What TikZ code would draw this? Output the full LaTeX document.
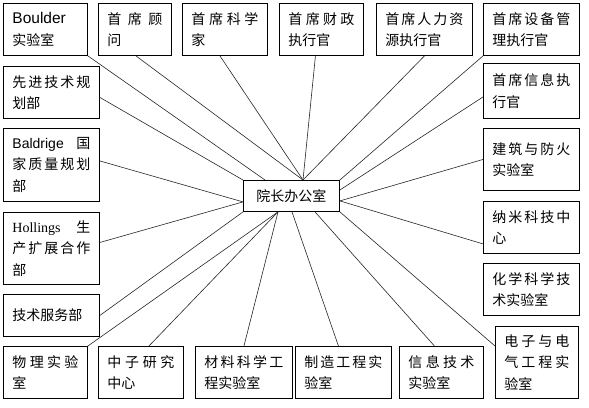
\documentclass[tikz,border=0pt]{standalone}
\usepackage{fontspec}
\setmainfont{Noto Sans CJK SC}
\newfontfamily\latinsans{Liberation Sans}
\newfontfamily\latinserif{Liberation Serif}

\begin{document}
\begin{tikzpicture}[x=1pt, y=-1pt,
  unit/.style={draw, line width=.9pt, anchor=north west, align=left, inner xsep=9pt, inner ysep=0pt, font=\fontsize{14}{21.5}\selectfont},
  link/.style={line width=.6pt, black!85}]
  \useasboundingbox[fill=white] (0,0) rectangle (589,407);
  % top row
  \node[unit, text width=66pt, minimum height=52pt] (boulder) at (3,3) {{\latinsans\fontsize{15.5}{21.5}\selectfont Boulder}\\实验室};
  \node[unit, text width=55pt, minimum height=52pt] (adv) at (98,3) {首\hfill 席\hfill 顾\\问};
  \node[unit, text width=67pt, minimum height=52pt] (sci) at (182,3) {首\hfill 席\hfill 科\hfill 学\\家};
  \node[unit, text width=66pt, minimum height=52pt] (fin) at (279,3) {首\hfill 席\hfill 财\hfill 政\\执行官};
  \node[unit, text width=78pt, minimum height=52pt] (hr) at (376,3) {首\hfill 席\hfill 人\hfill 力\hfill 资\\源执行官};
  \node[unit, text width=78pt, minimum height=52pt] (fac) at (483,3) {首\hfill 席\hfill 设\hfill 备\hfill 管\\理执行官};
  % right column
  \node[unit, text width=78pt, minimum height=55pt] (cio) at (483,63) {首\hfill 席\hfill 信\hfill 息\hfill 执\\行官};
  \node[unit, text width=78pt, minimum height=62pt] (fire) at (483,128) {建\hfill 筑\hfill 与\hfill 防\hfill 火\\实验室};
  \node[unit, text width=78pt, minimum height=52pt] (nano) at (483,201) {纳\hfill 米\hfill 科\hfill 技\hfill 中\\心};
  \node[unit, text width=78pt, minimum height=52pt] (chem) at (483,263) {化\hfill 学\hfill 科\hfill 学\hfill 技\\术实验室};
  \node[unit, text width=65pt, minimum height=72pt] (eee) at (495,326) {电\hfill 子\hfill 与\hfill 电\\气\hfill 工\hfill 程\hfill 实\\验室};
  % bottom row
  \node[unit, text width=66pt, minimum height=52pt] (itl) at (399,346) {信\hfill 息\hfill 技\hfill 术\\实验室};
  \node[unit, text width=78pt, minimum height=52pt] (mfg) at (295,346) {制\hfill 造\hfill 工\hfill 程\hfill 实\\验室};
  \node[unit, text width=79pt, minimum height=52pt] (mat) at (195,346) {材\hfill 料\hfill 科\hfill 学\hfill 工\\程实验室};
  \node[unit, text width=67pt, minimum height=52pt] (ncnr) at (98,346) {中\hfill 子\hfill 研\hfill 究\\中心};
  \node[unit, text width=66pt, minimum height=52pt] (phys) at (3,346) {物\hfill 理\hfill 实\hfill 验\\室};
  % left column
  \node[unit, text width=78pt, minimum height=42pt] (tsd) at (3,294) {技术服务部};
  \node[unit, text width=78pt, minimum height=72pt] (hol) at (3,212) {{\latinserif Hollings}\hfill 生\\产\hfill 扩\hfill 展\hfill 合\hfill 作\\部};
  \node[unit, text width=78pt, minimum height=73pt] (bal) at (3,128) {{\latinsans Baldrige}\hfill 国\\家\hfill 质\hfill 量\hfill 规\hfill 划\\部};
  \node[unit, text width=78pt, minimum height=52pt] (atp) at (3,66) {先\hfill 进\hfill 技\hfill 术\hfill 规\\划部};
  % centre
  \node[unit, align=center, inner xsep=0pt, minimum width=96pt, minimum height=31pt] (dir) at (243,180) {院长办公室};

  % links to the centre
  \draw[link] (boulder.south east) -- ([xshift=22pt]dir.north west);
  \draw[link] ([xshift=1pt]adv.south) -- ([xshift=60pt]dir.north west);
  \draw[link] ([xshift=-5pt]sci.south) -- ([xshift=60pt]dir.north west);
  \draw[link] ([xshift=-6pt]fin.south) -- ([xshift=60pt]dir.north west);
  \draw[link] (hr.south) -- ([xshift=60pt]dir.north west);
  \draw[link] (fac.south west) -- (dir.north east);
  \draw[link] ([yshift=-6pt]cio.west) -- ([yshift=-10pt]dir.north east);
  \draw[link] (fire.west) -- ([yshift=11pt]dir.south east);
  \draw[link] ([yshift=10pt]nano.south west) -- ([yshift=11pt]dir.south east);
  \draw[link] ([yshift=-5pt]atp.east) -- (dir.north west);
  \draw[link] ([yshift=4pt]bal.east) -- ([yshift=10pt]dir.south west);
  \draw[link] ([yshift=6pt]hol.east) -- ([yshift=10pt]dir.south west);
  \draw[link] (tsd.east) -- (dir.south west);
  \draw[link] (phys.north east) -- ([xshift=35pt]dir.south west);
  \draw[link] ([xshift=8pt]ncnr.north) -- ([xshift=35pt]dir.south west);
  \draw[link] (mat.north) -- ([xshift=35pt]dir.south west);
  \draw[link] ([xshift=-5pt]mfg.north) -- ([xshift=49pt]dir.south west);
  \draw[link] ([xshift=-7pt]itl.north) -- ([xshift=72pt]dir.south west);
  \draw[link] ([yshift=-20pt]eee.north west) -- (dir.south east);
\end{tikzpicture}
\end{document}
